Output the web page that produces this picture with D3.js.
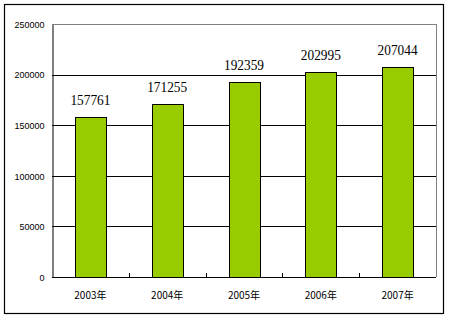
<!DOCTYPE html>
<html>
<head>
<meta charset="utf-8">
<script src="https://cdn.jsdelivr.net/npm/d3@7/dist/d3.min.js"></script>
<style>
  body { margin: 0; background: #fff; }
  svg { display: block; }
</style>
</head>
<body>
<div id="chart"></div>
<script>
// data
var years = ["2003年", "2004年", "2005年", "2006年", "2007年"];
var values = [157761, 171255, 192359, 202995, 207044];
var yTicks = [0, 50000, 100000, 150000, 200000, 250000];

var W = 450, H = 320;
var margin = { top: 24, right: 14, bottom: 43, left: 52 },
    width = 436 - margin.left,
    height = 277 - margin.top;

var svg = d3.select("#chart").append("svg")
    .attr("width", W)
    .attr("height", H);

// outer frame
svg.append("rect")
    .attr("x", 4.5).attr("y", 4.5)
    .attr("width", 439).attr("height", 309)
    .attr("fill", "none")
    .attr("stroke", "#000")
    .attr("stroke-width", 1.2);

var g = svg.append("g")
    .attr("transform", "translate(" + margin.left + "," + margin.top + ")");

var x = d3.scaleBand()
    .domain(years)
    .range([0, width])
    .paddingInner(0.6)
    .paddingOuter(0.3);

var y = d3.scaleLinear()
    .domain([0, 250000])
    .range([height, 0]);

// gridlines
g.selectAll(".grid")
    .data(yTicks.slice(1))
    .enter().append("line")
    .attr("x1", 0).attr("x2", width)
    .attr("y1", function (d) { return Math.round(y(d)) + 0.5; })
    .attr("y2", function (d) { return Math.round(y(d)) + 0.5; })
    .attr("stroke", function (d) { return d === 250000 ? "#808080" : "#000"; })
    .attr("stroke-width", 1);

// right plot edge
g.append("line")
    .attr("x1", width + 0.5).attr("x2", width + 0.5)
    .attr("y1", 0).attr("y2", height)
    .attr("stroke", "#808080");

// y axis
var yAxis = g.append("g")
    .attr("transform", "translate(0.5,0.5)")
    .call(d3.axisLeft(y).tickValues(yTicks).tickSize(0).tickPadding(8).tickFormat(d3.format("d")));
yAxis.select(".domain").attr("stroke", "#000");
yAxis.selectAll("text")
    .attr("font-family", "Liberation Sans, Arial, sans-serif")
    .attr("font-size", 9)
    .attr("fill", "#000");

// x axis with inward ticks at category boundaries
var bounds = years.map(function (d, i) { return i * x.step(); }).concat([width]);
g.append("line")
    .attr("x1", 0).attr("x2", width)
    .attr("y1", height + 0.5).attr("y2", height + 0.5)
    .attr("stroke", "#000");
g.selectAll(".xtick")
    .data(bounds.slice(1, -1))
    .enter().append("line")
    .attr("x1", function (d) { return Math.round(d) + 0.5; })
    .attr("x2", function (d) { return Math.round(d) + 0.5; })
    .attr("y1", height).attr("y2", height - 4)
    .attr("stroke", "#000");

g.selectAll(".xlabel")
    .data(years)
    .enter().append("text")
    .attr("x", function (d) { return x(d) + x.bandwidth() / 2; })
    .attr("y", height + 22)
    .attr("text-anchor", "middle")
    .attr("font-family", "Noto Sans CJK SC, sans-serif")
    .attr("font-size", 10)
    .attr("fill", "#000")
    .text(function (d) { return d; });

// bars
g.selectAll(".bar")
    .data(values)
    .enter().append("rect")
    .attr("class", "bar")
    .attr("x", function (d, i) { return Math.round(x(years[i])) + 0.5; })
    .attr("width", Math.round(x.bandwidth()))
    .attr("y", function (d) { return Math.round(y(d)) + 0.5; })
    .attr("height", function (d) { return height - Math.round(y(d)); })
    .attr("fill", "#99cc00")
    .attr("stroke", "#000")
    .attr("stroke-width", 1);

// value labels (tall, narrow digits like the original)
g.selectAll(".val")
    .data(values)
    .enter().append("text")
    .attr("x", function (d, i) { return x(years[i]) + x.bandwidth() / 2; })
    .attr("y", function (d) { return y(d) - 12; })
    .attr("text-anchor", "middle")
    .attr("font-family", "Liberation Serif, Times New Roman, serif")
    .attr("font-size", 15)
    .attr("textLength", 40)
    .attr("lengthAdjust", "spacingAndGlyphs")
    .attr("fill", "#000")
    .text(function (d) { return d; });
</script>
</body>
</html>
